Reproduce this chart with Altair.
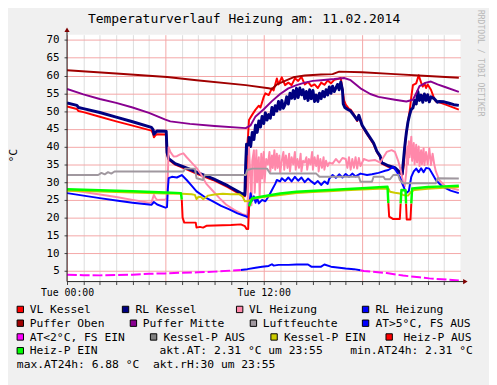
import altair as alt
import pandas as pd

FONT = "DejaVu Sans Mono"
W, H = 400, 251
PAD = {"left": 60, "top": 24, "right": 29, "bottom": 102}

TITLE = "Temperaturverlauf Heizung am: 11.02.2014"
UNIT = "°C"
WATERMARK = "RRDTOOL / TOBI OETIKER"

X_DOMAIN = [0, 24]
Y_DOMAIN = [2, 71.5]
X_TICKS = list(range(0, 24))
Y_TICKS = list(range(5, 75, 5))
X_LABELS = {0: "Tue 00:00", 12: "Tue 12:00"}

# ---- series (hour, °C) ----
PUFFER_OBEN = [(0, 61.5), (3, 60.6), (6.1, 59.6), (7.9, 58.7), (10.9, 57.3), (12.3, 56.4),
               (12.5, 56.2), (12.8, 57.5), (13.3, 58.5), (13.8, 59.5), (14.5, 60.0), (15.5, 60.3),
               (16.2, 60.4), (16.6, 61.1), (18.0, 60.9), (20.0, 60.4), (22.0, 59.9), (23.9, 59.4)]

PUFFER_MITTE = [(0, 56.2), (1, 54.7), (2, 53.4), (3, 52.3), (4, 51.0), (5, 49.5), (6, 47.6), (6.3, 47.1),
                (7.5, 46.4), (9, 45.8), (10.9, 45.2), (11.2, 46.0), (11.5, 48.5), (12.0, 50.5),
                (12.5, 52.8), (13.0, 54.8), (13.5, 56.4), (14.0, 57.3), (14.5, 58.0), (15.0, 58.5),
                (15.5, 58.7), (16.3, 59.0), (16.9, 59.3), (17.3, 58.7), (17.9, 56.4), (18.5, 54.8),
                (19.0, 54.0), (20.0, 53.2), (20.7, 52.7), (21.1, 53.2), (21.3, 55.0), (21.5, 57.0),
                (21.9, 58.0), (22.2, 58.3), (22.6, 57.5), (23.1, 56.7), (23.9, 55.4)]

VL_KESSEL = [(0, 51.3), (0.6, 50.6), (0.7, 50.0), (1, 49.7), (2, 48.4), (3, 47.1), (4, 45.9), (5.15, 44.5),
             (5.25, 43.6), (5.3, 42.6), (5.4, 43.2), (5.5, 43.5), (6.05, 43.4), (6.1, 38.0), (6.2, 36.3),
             (6.6, 34.9), (7.4, 33.4), (8, 32.2), (8.9, 30.6), (9.8, 28.6), (10.6, 26.5), (10.85, 26.0),
             (10.95, 30.0), (11.0, 40.5), (11.05, 43.5), (11.1, 47.5), (11.3, 49.0), (11.5, 50.4),
             (11.7, 51.5), (11.8, 51.0), (12.0, 54.0), (12.1, 55.0), (12.3, 54.5), (12.5, 56.4),
             (12.6, 55.8), (12.8, 59.2), (12.9, 57.5), (13.1, 59.5), (13.3, 57.3), (13.5, 58.0),
             (13.7, 57.3), (13.9, 59.2), (14.1, 58.5), (14.3, 59.6), (14.5, 57.5), (14.7, 58.2),
             (14.9, 57.0), (15.1, 57.5), (15.3, 56.5), (15.5, 58.0), (15.7, 57.4), (15.9, 58.6),
             (16.1, 57.8), (16.3, 58.8), (16.5, 59.0), (16.7, 59.3), (16.8, 56.0), (16.9, 53.0),
             (17.0, 51.8), (17.2, 50.6), (17.3, 50.4), (17.5, 49.0), (17.7, 47.2), (17.8, 48.6),
             (18.0, 45.8), (18.3, 43.5), (18.7, 40.7), (18.9, 38.5), (19.1, 37.0), (19.2, 35.2),
             (19.6, 34.3), (20.0, 33.8), (20.2, 32.9), (20.45, 32.0), (20.55, 35.0), (20.65, 42.0),
             (20.8, 47.0), (20.9, 50.0), (21.0, 54.0), (21.1, 57.3), (21.3, 57.8), (21.45, 60.1),
             (21.6, 58.0), (21.7, 56.9), (21.8, 57.8), (21.9, 56.5), (22.0, 57.5), (22.2, 56.0),
             (22.4, 53.5), (22.5, 52.7), (22.8, 52.3), (23.1, 51.8), (23.5, 51.1), (23.9, 50.4)]

RL_KESSEL = [(0, 52.3), (0.6, 51.6), (0.7, 51.0), (1, 50.7), (2, 49.6), (3, 48.3), (4, 47.0), (5.15, 45.4),
             (5.25, 44.8), (5.3, 43.5), (5.4, 44.0), (5.5, 44.4), (6.05, 44.3), (6.1, 38.4), (6.2, 36.6),
             (6.6, 35.2), (7.4, 33.8), (8, 32.6), (8.9, 31.0), (9.8, 29.0), (10.6, 26.9), (10.85, 26.4),
             (10.9, 35.0), (10.95, 40.7), (11.05, 38.0), (11.1, 42.6), (11.2, 40.0), (11.3, 44.0),
             (11.4, 42.0), (11.5, 46.0), (11.6, 44.0), (11.7, 47.2), (11.8, 45.5), (11.9, 48.5),
             (12.0, 46.5), (12.1, 49.5), (12.2, 47.5), (12.3, 49.0), (12.4, 48.0), (12.5, 51.0),
             (12.6, 49.0), (12.7, 51.5), (12.8, 50.0), (12.9, 52.7), (13.0, 50.5), (13.1, 53.0),
             (13.2, 50.8), (13.3, 51.8), (13.4, 54.0), (13.5, 52.0), (13.6, 55.0), (13.7, 53.6),
             (13.8, 55.8), (13.9, 53.5), (14.0, 56.4), (14.1, 53.8), (14.2, 56.5), (14.3, 54.6),
             (14.4, 56.0), (14.5, 53.5), (14.6, 55.5), (14.7, 53.0), (14.8, 56.0), (14.9, 53.5),
             (15.0, 55.8), (15.1, 52.7), (15.2, 54.5), (15.3, 52.7), (15.4, 55.0), (15.5, 53.5),
             (15.6, 55.5), (15.7, 54.0), (15.8, 56.0), (15.9, 54.5), (16.0, 56.8), (16.1, 55.0),
             (16.2, 57.0), (16.3, 55.5), (16.5, 57.5), (16.6, 56.0), (16.7, 58.2), (16.8, 56.0),
             (16.85, 52.0), (16.95, 51.0), (17.1, 50.5), (17.3, 50.0), (17.5, 48.8), (17.7, 47.5),
             (17.8, 48.8), (18.0, 46.0), (18.3, 43.8), (18.7, 41.0), (18.9, 38.7), (19.1, 37.3),
             (19.2, 35.5), (19.6, 34.6), (20.0, 34.1), (20.2, 33.2), (20.45, 32.3), (20.5, 35.0),
             (20.6, 40.0), (20.7, 44.0), (20.8, 47.0), (20.9, 49.0), (21.0, 50.5), (21.1, 50.9),
             (21.2, 53.0), (21.3, 52.0), (21.4, 55.5), (21.5, 53.0), (21.6, 54.5), (21.7, 52.5),
             (21.8, 54.8), (21.9, 53.0), (22.0, 54.6), (22.1, 52.6), (22.2, 54.0), (22.4, 53.5),
             (22.6, 52.5), (22.7, 52.7), (23.0, 52.6), (23.3, 52.2), (23.6, 51.8), (23.9, 51.6)]

VL_HEIZUNG = [(0, 27.8), (1, 27.2), (2, 26.5), (3, 25.8), (4, 25.0), (5.0, 24.2), (5.15, 24.3), (5.3, 26.4),
              (5.4, 25.5), (5.5, 25.0), (6.0, 25.1), (6.1, 25.5), (6.15, 32.0), (6.2, 39.8), (6.3, 38.5),
              (6.5, 37.2), (6.7, 37.3), (6.9, 37.8), (7.1, 38.1), (7.3, 37.0), (7.6, 35.5), (7.9, 34.0),
              (8.2, 32.0), (8.5, 29.5), (8.9, 27.5), (9.3, 25.5), (9.7, 23.7), (10.2, 22.2), (10.7, 21.0),
              (11.0, 20.6), (11.05, 30.0), (11.1, 39.8), (11.2, 30.0), (11.25, 23.5), (11.3, 36.0),
              (11.4, 39.0), (11.45, 27.0), (11.55, 39.0), (11.6, 30.0), (11.7, 37.0), (11.75, 26.0),
              (11.85, 38.0), (11.9, 31.0), (12.0, 38.5), (12.05, 30.0), (12.15, 36.5), (12.25, 35.0),
              (12.35, 38.5), (12.4, 33.0), (12.5, 37.5), (12.55, 34.0), (12.65, 39.0), (12.7, 33.5),
              (12.8, 38.0), (12.85, 34.0), (12.95, 37.5), (13.0, 32.5), (13.1, 36.0), (13.2, 38.5),
              (13.25, 33.5), (13.35, 37.5), (13.45, 34.0), (13.55, 38.0), (13.6, 33.0), (13.7, 37.0),
              (13.8, 35.0), (13.9, 38.5), (13.95, 33.5), (14.05, 36.5), (14.15, 34.0), (14.25, 38.0),
              (14.3, 33.0), (14.4, 36.0), (14.5, 35.5), (14.6, 37.0), (14.65, 33.5), (14.75, 36.5),
              (14.85, 35.0), (14.95, 38.5), (15.0, 33.5), (15.1, 37.0), (15.2, 34.5), (15.3, 37.5),
              (15.35, 33.0), (15.45, 36.5), (15.55, 34.0), (15.65, 37.0), (15.7, 33.5), (15.8, 36.0),
              (15.9, 34.5), (16.0, 35.5), (16.2, 35.2), (16.4, 36.5), (16.6, 35.5), (16.8, 36.8),
              (17.0, 36.5), (17.1, 34.0), (17.2, 37.0), (17.3, 33.5), (17.4, 36.5), (17.5, 34.0),
              (17.6, 37.0), (17.7, 33.8), (17.8, 36.8), (17.9, 34.5), (18.1, 36.5), (18.4, 36.0),
              (18.8, 36.2), (19.1, 35.5), (19.3, 37.0), (19.5, 38.5), (19.8, 39.0), (20.0, 38.5),
              (20.2, 36.0), (20.35, 33.5), (20.5, 30.0), (20.6, 28.8), (20.7, 33.0), (20.75, 40.0),
              (20.8, 35.0), (20.85, 41.5), (20.9, 37.0), (21.0, 42.8), (21.05, 36.0), (21.15, 41.0),
              (21.2, 35.0), (21.3, 40.5), (21.35, 35.5), (21.45, 40.0), (21.5, 34.5), (21.6, 39.0),
              (21.65, 35.0), (21.75, 39.5), (21.8, 34.8), (21.9, 38.5), (22.0, 35.0), (22.1, 39.5),
              (22.2, 34.8), (22.3, 38.0), (22.4, 35.0), (22.5, 33.0), (22.7, 30.6), (23.1, 28.7),
              (23.5, 28.2), (23.9, 27.8)]

RL_HEIZUNG = [(0, 26.9), (1, 26.2), (2, 25.5), (3, 24.8), (4, 24.2), (5.0, 23.7), (5.15, 23.6), (5.3, 24.4),
              (5.5, 23.7), (6.0, 22.8), (6.1, 23.0), (6.15, 28.0), (6.2, 31.1), (6.4, 31.5), (6.7, 31.3),
              (7.0, 32.0), (7.3, 30.6), (7.6, 29.0), (7.9, 27.4), (8.4, 25.8), (8.9, 24.6), (9.4, 23.3),
              (9.9, 22.3), (10.4, 21.2), (10.9, 20.4), (11.05, 20.0), (11.15, 25.0), (11.2, 26.9),
              (11.3, 24.8), (11.4, 26.0), (11.5, 24.2), (11.6, 25.5), (11.7, 24.0), (11.9, 25.0),
              (12.1, 24.6), (12.3, 26.0), (12.5, 27.8), (12.7, 29.5), (12.8, 30.6), (13.0, 30.2),
              (13.1, 31.1), (13.3, 30.3), (13.5, 31.3), (13.7, 30.2), (13.9, 31.5), (14.1, 30.4),
              (14.3, 31.3), (14.5, 30.0), (14.7, 31.0), (14.9, 30.2), (15.1, 29.5), (15.3, 30.3),
              (15.5, 29.2), (15.7, 30.2), (15.9, 29.5), (16.0, 31.0), (16.2, 32.0), (16.4, 31.2),
              (16.6, 32.2), (16.8, 31.3), (17.0, 32.3), (17.2, 31.5), (17.4, 32.4), (17.6, 31.6),
              (17.9, 32.4), (18.3, 32.0), (18.6, 32.2), (19.0, 32.6), (19.2, 32.9), (19.4, 33.2),
              (19.6, 33.4), (19.9, 34.3), (20.1, 33.0), (20.3, 31.5), (20.5, 29.0), (20.7, 26.9),
              (20.85, 27.5), (21.0, 31.5), (21.15, 33.0), (21.3, 33.8), (21.45, 32.8), (21.6, 33.9),
              (21.75, 32.8), (21.9, 34.0), (22.1, 33.8), (22.3, 32.2), (22.5, 30.6), (22.9, 28.7),
              (23.4, 27.6), (23.9, 26.9)]

LUFTFEUCHTE = [(0, 32.0), (1.9, 32.0), (2.1, 32.6), (2.3, 32.2), (2.5, 32.8), (2.7, 32.4), (2.9, 33.0),
               (7.1, 33.0), (7.2, 33.8), (7.8, 33.8), (7.9, 31.1), (8.3, 30.6), (8.4, 32.0), (10.9, 32.0),
               (11.0, 33.4), (11.3, 33.8), (12.2, 33.8), (12.4, 32.4), (15.2, 32.4), (15.4, 31.5),
               (17.8, 31.5), (17.9, 30.1), (18.6, 30.1), (18.7, 31.5), (19.3, 31.5), (19.4, 30.8),
               (19.7, 30.8), (19.9, 32.0), (20.2, 32.0), (20.3, 30.6), (20.5, 29.7), (22.5, 29.7),
               (22.6, 31.1), (23.9, 31.0)]

AT_UEBER_5 = [(10.6, 5.25), (11.0, 5.5), (11.5, 5.9), (11.9, 6.2), (12.3, 6.4), (12.5, 6.88), (12.6, 6.5),
              (12.9, 6.7), (13.5, 6.7), (14.0, 6.8), (14.7, 6.8), (14.9, 6.2), (15.5, 6.2), (15.7, 6.8),
              (16.1, 6.2), (17.0, 5.7), (17.5, 5.5), (17.9, 5.2)]
AT_UNTER_2 = [[(0, 3.95), (1, 3.8), (2, 3.75), (3, 3.85), (4, 3.95), (5, 4.2), (6, 4.3), (7, 4.5), (8, 4.6),
               (9, 4.8), (10, 5.1), (10.6, 5.25)],
              [(17.9, 5.2), (18.1, 5.0), (19.5, 4.4), (20.5, 3.7), (21.5, 3.2), (22.1, 2.9), (23.5, 2.45),
               (23.9, 2.31)]]

KESSEL_P_AUS = []
KESSEL_P_EIN = [(0, 27.6), (1, 27.5), (2, 27.35), (3, 27.2), (4, 27.05), (5, 26.9), (6, 26.8), (7, 26.7),
                (7.6, 26.6), (7.8, 26.4), (7.9, 25.2), (8.0, 25.8), (8.15, 25.9), (8.3, 25.2), (8.45, 25.6),
                (8.6, 26.2), (9.0, 26.5), (9.5, 26.7), (10.0, 26.6), (10.5, 26.6), (10.7, 26.0),
                (10.85, 24.6), (11.1, 24.7), (11.3, 25.3), (12.0, 25.8), (13, 26.4), (14, 26.9), (15, 27.2),
                (16, 27.4), (17, 27.7), (18, 27.9), (19, 28.1), (19.6, 28.2), (19.7, 27.3), (20.0, 27.0),
                (20.3, 26.8), (20.5, 26.4), (20.8, 26.2), (21.0, 27.3), (21.2, 27.8), (22, 28.1),
                (23, 28.4), (23.9, 28.6)]
HEIZ_P_AUS = [[(7.0, 25.1), (7.05, 20.0), (7.15, 18.6), (7.85, 18.6), (7.9, 17.2), (8.1, 17.4), (8.3, 17.2),
               (8.5, 17.7), (9.0, 17.8), (10.0, 17.9), (10.6, 18.1), (10.85, 17.6), (10.95, 16.8),
               (11.05, 16.8), (11.1, 23.2)],
              [(19.6, 24.1), (19.65, 20.3), (19.9, 19.6), (20.3, 19.6), (20.35, 24.0)],
              [(20.68, 24.0), (20.72, 19.5), (20.95, 19.5), (21.0, 24.0)]]
HEIZ_P_EIN = [[(0, 28.0), (2, 27.7), (4, 27.4), (6, 27.1), (6.95, 26.9), (7.0, 25.1)],
              [(11.1, 23.2), (11.15, 23.7), (11.3, 25.5), (12, 26.0), (13, 26.8), (14, 27.3), (16, 27.8),
               (18, 28.3), (19.55, 28.7), (19.6, 24.1)],
              [(20.35, 24.0), (20.4, 27.8), (20.65, 27.7), (20.68, 24.0)],
              [(21.0, 24.0), (21.05, 28.2), (22, 28.6), (23, 28.8), (23.9, 29.0)]]

AKT_AT, MIN_AT, MAX_AT, AKT_RH, AKT_TIME = 2.31, 2.31, 6.88, 30, "23:55"

# name, colour, data segments, line width, dash  (drawn in this order)
SERIES = [
    ("VL Kessel", "#FF0000", [VL_KESSEL], 2, None),
    ("RL Kessel", "#000080", [RL_KESSEL], 3, None),
    ("VL Heizung", "#FF88AA", [VL_HEIZUNG], 2, None),
    ("RL Heizung", "#0000FF", [RL_HEIZUNG], 2, None),
    ("Puffer Oben", "#A00000", [PUFFER_OBEN], 2, None),
    ("Puffer Mitte", "#880090", [PUFFER_MITTE], 2, None),
    ("Luftfeuchte", "#A0989F", [LUFTFEUCHTE], 2, None),
    ("AT>5°C, FS AUS", "#0000FF", [AT_UEBER_5], 2, None),
    ("AT<2°C, FS EIN", "#FF00FF", AT_UNTER_2, 2, [10, 3]),
    ("Kessel-P AUS", "#808080", [KESSEL_P_AUS], 2, None),
    ("Kessel-P EIN", "#CCCC00", [KESSEL_P_EIN], 2, None),
    ("Heiz-P AUS", "#FF0000", HEIZ_P_AUS, 2, None),
    ("Heiz-P EIN", "#00FF00", HEIZ_P_EIN, 2.5, None),
]

# legend layout: (square left x on page, text left x on page, row)
LEGEND_LAYOUT = [(17, 30, 0), (124, 137.5, 0), (240, 253, 0), (368, 381.5, 0),
                 (17, 30, 1), (132, 145, 1), (254, 267, 1), (368, 381.5, 1),
                 (17, 30, 2), (152.5, 166, 2), (275, 288.5, 2), (392, 410, 2),
                 (17, 30, 3)]
NBSP = "\u00a0"
INFO_TEXTS = [(f"akt.AT: {AKT_AT:.2f} °C um {AKT_TIME}", 162, 3),
              (f"min.AT24h: {MIN_AT:.2f} °C", 356, 3),
              (f"max.AT24h: {MAX_AT:.2f} °C {NBSP}akt.rH:{AKT_RH} um {AKT_TIME}", 17, 4)]
PLOT_X0, PLOT_Y0 = 68, 32
ROW_BASE, ROW_STEP = 283, 14
LEG_FS = 11.5

xs = alt.Scale(domain=X_DOMAIN, nice=False, zero=False)
ys = alt.Scale(domain=Y_DOMAIN, nice=False, zero=False)
one = pd.DataFrame({"a": [0]})

label_expr = "".join(f"datum.value === {k} ? '{v}' : " for k, v in X_LABELS.items()) + "''"
X_AXIS = alt.Axis(
    values=X_TICKS, grid=True,
    gridColor={"condition": {"test": "datum.value % 6 === 0", "value": "#F4A6A6"}, "value": "#DCDCDC"},
    gridWidth=1, domain=False, ticks=True, tickSize=3, tickColor="#404040",
    labelExpr=label_expr, labelFont=FONT, labelFontSize=10, labelColor="black",
    labelPadding=3.4, labelFlush=False, labelOverlap=False, labelBound=False, title=None)
Y_AXIS = alt.Axis(
    values=Y_TICKS, grid=True, gridColor="#F4A6A6", gridWidth=1, domain=False,
    ticks=True, tickSize=3, tickColor="#404040", labelFont=FONT, labelFontSize=11,
    labelColor="black", labelPadding=5, title=None)

layers = []
for name, color, segs, width, dash in SERIES:
    rows = []
    for si, seg in enumerate(segs):
        for i, (h, v) in enumerate(seg):
            rows.append({"seg": si, "i": i, "h": h, "v": v})
    if not rows:
        continue
    kw = dict(color=color, strokeWidth=width, clip=True, strokeJoin="round")
    if dash:
        kw["strokeDash"] = dash
    layers.append(alt.Chart(pd.DataFrame(rows)).mark_line(**kw).encode(
        x=alt.X("h:Q", scale=xs, axis=X_AXIS),
        y=alt.Y("v:Q", scale=ys, axis=Y_AXIS),
        detail="seg:N", order="i:Q"))

# axis lines and arrows
layers.append(alt.Chart(one).mark_rule(color="#202020", strokeWidth=1).encode(
    x=alt.value(0), y=alt.value(-4), y2=alt.value(H)))
layers.append(alt.Chart(one).mark_rule(color="#202020", strokeWidth=1).encode(
    x=alt.value(0), x2=alt.value(W + 4), y=alt.value(H)))
layers.append(alt.Chart(one).mark_point(shape="triangle-up", filled=True, color="#7F0000", size=28, opacity=1).encode(
    x=alt.value(0), y=alt.value(-5)))
layers.append(alt.Chart(one).mark_point(shape="triangle-right", filled=True, color="#7F0000", size=28, opacity=1).encode(
    x=alt.value(W + 5), y=alt.value(H)))

# title, unit, watermark
def text_layer(txt, x, y, **kw):
    return alt.Chart(pd.DataFrame({"t": [txt]})).mark_text(font=FONT, **kw).encode(
        text="t:N", x=alt.value(x), y=alt.value(y))

layers.append(text_layer(TITLE, 180, -12, fontSize=13.2, align="center", baseline="alphabetic", color="black"))
layers.append(text_layer(UNIT, -54, 123, fontSize=11.5, angle=270, align="center", baseline="middle", color="black"))
layers.append(text_layer(WATERMARK, 419.5, 29, fontSize=8.2, angle=90, align="center", baseline="middle", color="#B8B8B8"))

# legend
for (name, color, _s, _w, _d), (sx, tx, row) in zip(SERIES, LEGEND_LAYOUT):
    base_y = ROW_BASE + ROW_STEP * row
    layers.append(alt.Chart(one).mark_square(size=42, filled=True, color=color, stroke="black",
                                             strokeWidth=1, opacity=1).encode(
        x=alt.value(sx + 3.5 - PLOT_X0), y=alt.value(base_y - 3.7)))
    layers.append(text_layer(name, tx - PLOT_X0, base_y, fontSize=LEG_FS, align="left",
                             baseline="alphabetic", color="black"))
for txt, px, row in INFO_TEXTS:
    layers.append(text_layer(txt, px - PLOT_X0, ROW_BASE + ROW_STEP * row, fontSize=LEG_FS, align="left",
                             baseline="alphabetic", color="black"))

chart = alt.layer(*layers).properties(
    width=W, height=H, padding=PAD,
    autosize=alt.AutoSizeParams(type="none"),
    background="#F0F0F0",
).configure_view(fill="white", stroke=None)

chart.save("out.html", embed_options={"renderer": "svg", "actions": False})
